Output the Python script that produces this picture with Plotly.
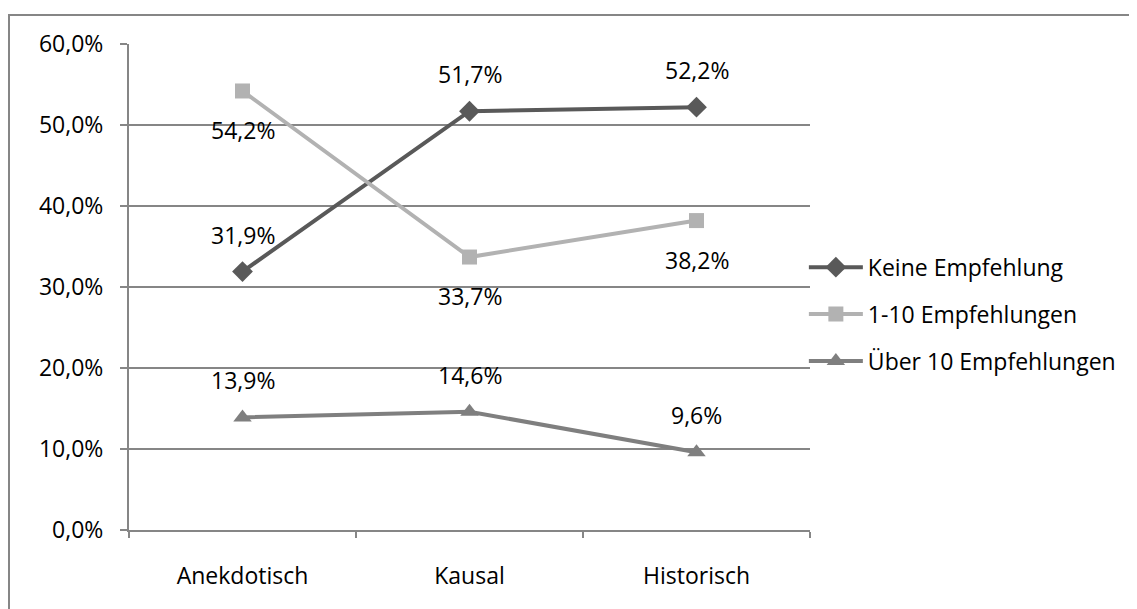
import plotly.graph_objects as go

categories = ["Anekdotisch", "Kausal", "Historisch"]
keine = [31.9, 51.7, 52.2]
eins_zehn = [54.2, 33.7, 38.2]
ueber_zehn = [13.9, 14.6, 9.6]
series_names = ["Keine Empfehlung", "1-10 Empfehlungen", "Über 10 Empfehlungen"]
y_ticks = [0, 10, 20, 30, 40, 50, 60]

FONT = "Open Sans"
FS = 23
GRID = "#868686"

def fmt(v):
    return f"{v:.1f}".replace(".", ",") + "%"

series = [
    (series_names[0], keine, "#595959", "diamond", 16, 1),
    (series_names[1], eins_zehn, "#b2b2b2", "square", 15, -1),
    (series_names[2], ueber_zehn, "#7f7f7f", "triangle-up", 16, 1),
]

fig = go.Figure()
annotations = []
for i, (name, vals, col, sym, ms, side) in enumerate(series):
    fig.add_trace(go.Scatter(
        x=categories, y=vals, name=name, mode="lines+markers",
        line=dict(color=col, width=4),
        marker=dict(symbol=sym, size=ms, color=col),
        legendgroup=f"g{i}",
    ))
    for c, v in zip(categories, vals):
        annotations.append(dict(
            x=c, y=v, xref="x", yref="y", text=fmt(v), showarrow=False,
            yshift=37 if side > 0 else -39,
            font=dict(family=FONT, size=FS, color="#000000"),
        ))

fig.update_layout(
    width=1137, height=609,
    margin=dict(l=121, r=335, t=36, b=87),
    paper_bgcolor="white", plot_bgcolor="white",
    font=dict(family=FONT, size=FS, color="#000000"),
    separators=",.",
    showlegend=True,
    legend=dict(
        x=0.991, xanchor="left", y=0.585, yanchor="top",
        font=dict(family=FONT, size=FS, color="#000000"),
        tracegroupgap=14, itemwidth=54, bgcolor="rgba(0,0,0,0)",
    ),
    annotations=annotations,
    shapes=[dict(
        type="rect", xref="paper", yref="paper",
        x0=-0.1762, x1=1.6, y0=-0.3, y1=1.0597,
        line=dict(color=GRID, width=2), layer="below",
    )],
)
fig.update_xaxes(
    type="category", range=[-0.5, 2.5],
    showline=True, linecolor=GRID, linewidth=2,
    ticks="outside", tickson="boundaries", ticklen=6, tickcolor=GRID, tickwidth=2,
    showgrid=False, ticklabelstandoff=24,
)
fig.update_yaxes(
    range=[0, 60], tickvals=y_ticks, ticktext=[fmt(v) for v in y_ticks],
    showline=True, linecolor=GRID, linewidth=2,
    ticks="outside", ticklen=7, tickcolor=GRID, tickwidth=2,
    showgrid=True, gridcolor=GRID, gridwidth=2, zeroline=False,
    ticklabelstandoff=12,
)
fig.write_html("out.html")
